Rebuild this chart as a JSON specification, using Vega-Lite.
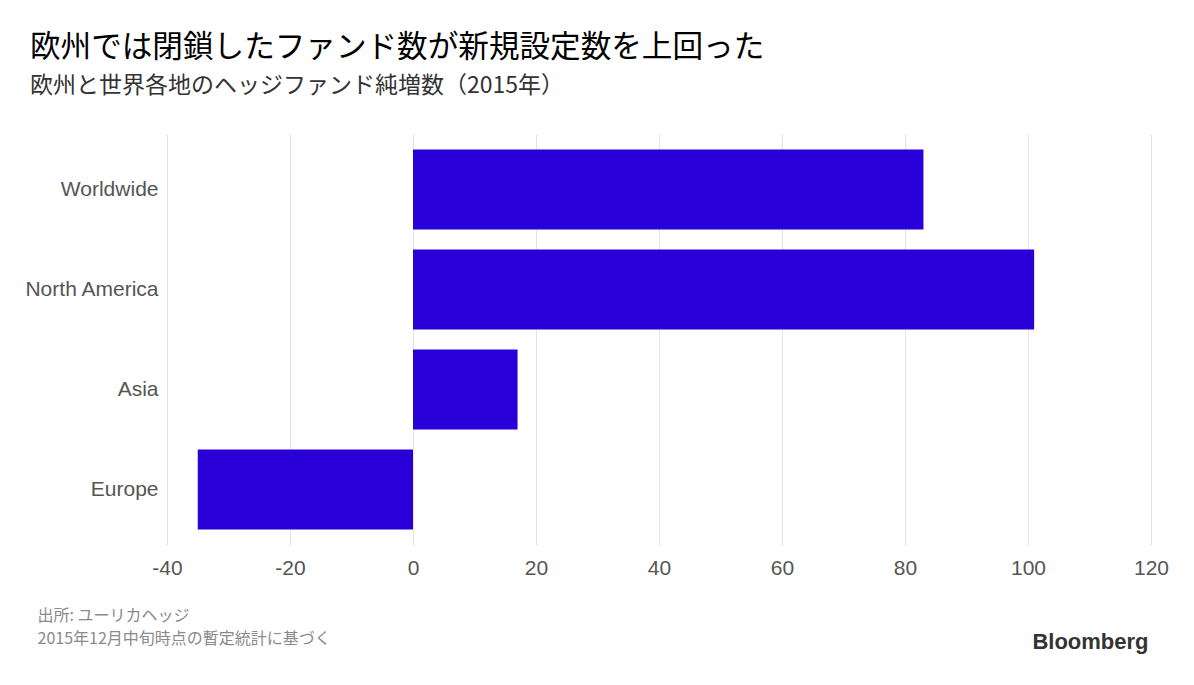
{
  "$schema": "https://vega.github.io/schema/vega-lite/v6.json",
  "width": 984,
  "height": 411,
  "autosize": {"type": "none"},
  "padding": {"left": 167, "top": 134, "right": 43, "bottom": 140},
  "background": "white",
  "title": {
    "text": "欧州では閉鎖したファンド数が新規設定数を上回った",
    "subtitle": "欧州と世界各地のヘッジファンド純増数（2015年）",
    "anchor": "start",
    "frame": "group",
    "dx": -137,
    "offset": 36,
    "font": "Noto Sans CJK JP",
    "fontSize": 30.6,
    "fontWeight": "normal",
    "color": "#000000",
    "subtitleFont": "Noto Sans CJK JP",
    "subtitleFontSize": 23,
    "subtitleColor": "#333333",
    "subtitlePadding": 11
  },
  "data": {
    "values": [
      {"region": "Worldwide", "value": 83},
      {"region": "North America", "value": 101},
      {"region": "Asia", "value": 17},
      {"region": "Europe", "value": -35}
    ]
  },
  "mark": {"type": "bar", "color": "#2900d7"},
  "encoding": {
    "y": {
      "field": "region",
      "type": "nominal",
      "sort": null,
      "scale": {"paddingInner": 0.2, "paddingOuter": 0.155},
      "axis": {
        "domain": false,
        "ticks": false,
        "grid": false,
        "labelFont": "Liberation Sans",
        "labelFontSize": 21,
        "labelColor": "#555555",
        "labelPadding": 9,
        "title": "Bloomberg",
        "titleAngle": 0,
        "titleX": 981,
        "titleY": 514,
        "titleAlign": "right",
        "titleBaseline": "alphabetic",
        "titleFont": "Liberation Sans",
        "titleFontSize": 22,
        "titleFontWeight": "bold",
        "titleColor": "#333333"
      }
    },
    "x": {
      "field": "value",
      "type": "quantitative",
      "scale": {"domain": [-40, 120], "nice": false},
      "axis": {
        "values": [-40, -20, 0, 20, 40, 60, 80, 100, 120],
        "labelExpr": "'' + datum.value",
        "labelFlush": false,
        "labelOverlap": false,
        "grid": true,
        "gridColor": "#e2e2e8",
        "gridWidth": 1,
        "domain": false,
        "ticks": false,
        "labelFont": "Liberation Sans",
        "labelFontSize": 21,
        "labelColor": "#555555",
        "labelPadding": 12,
        "title": ["出所: ユーリカヘッジ", "2015年12月中旬時点の暫定統計に基づく"],
        "titleX": -130,
        "titleY": 75,
        "titleAlign": "left",
        "titleAnchor": "start",
        "titleBaseline": "alphabetic",
        "titleFont": "Noto Sans CJK JP",
        "titleFontSize": 16,
        "titleFontWeight": "normal",
        "titleColor": "#8a8a8a",
        "titleLineHeight": 23
      }
    }
  },
  "config": {"view": {"stroke": null}}
}
